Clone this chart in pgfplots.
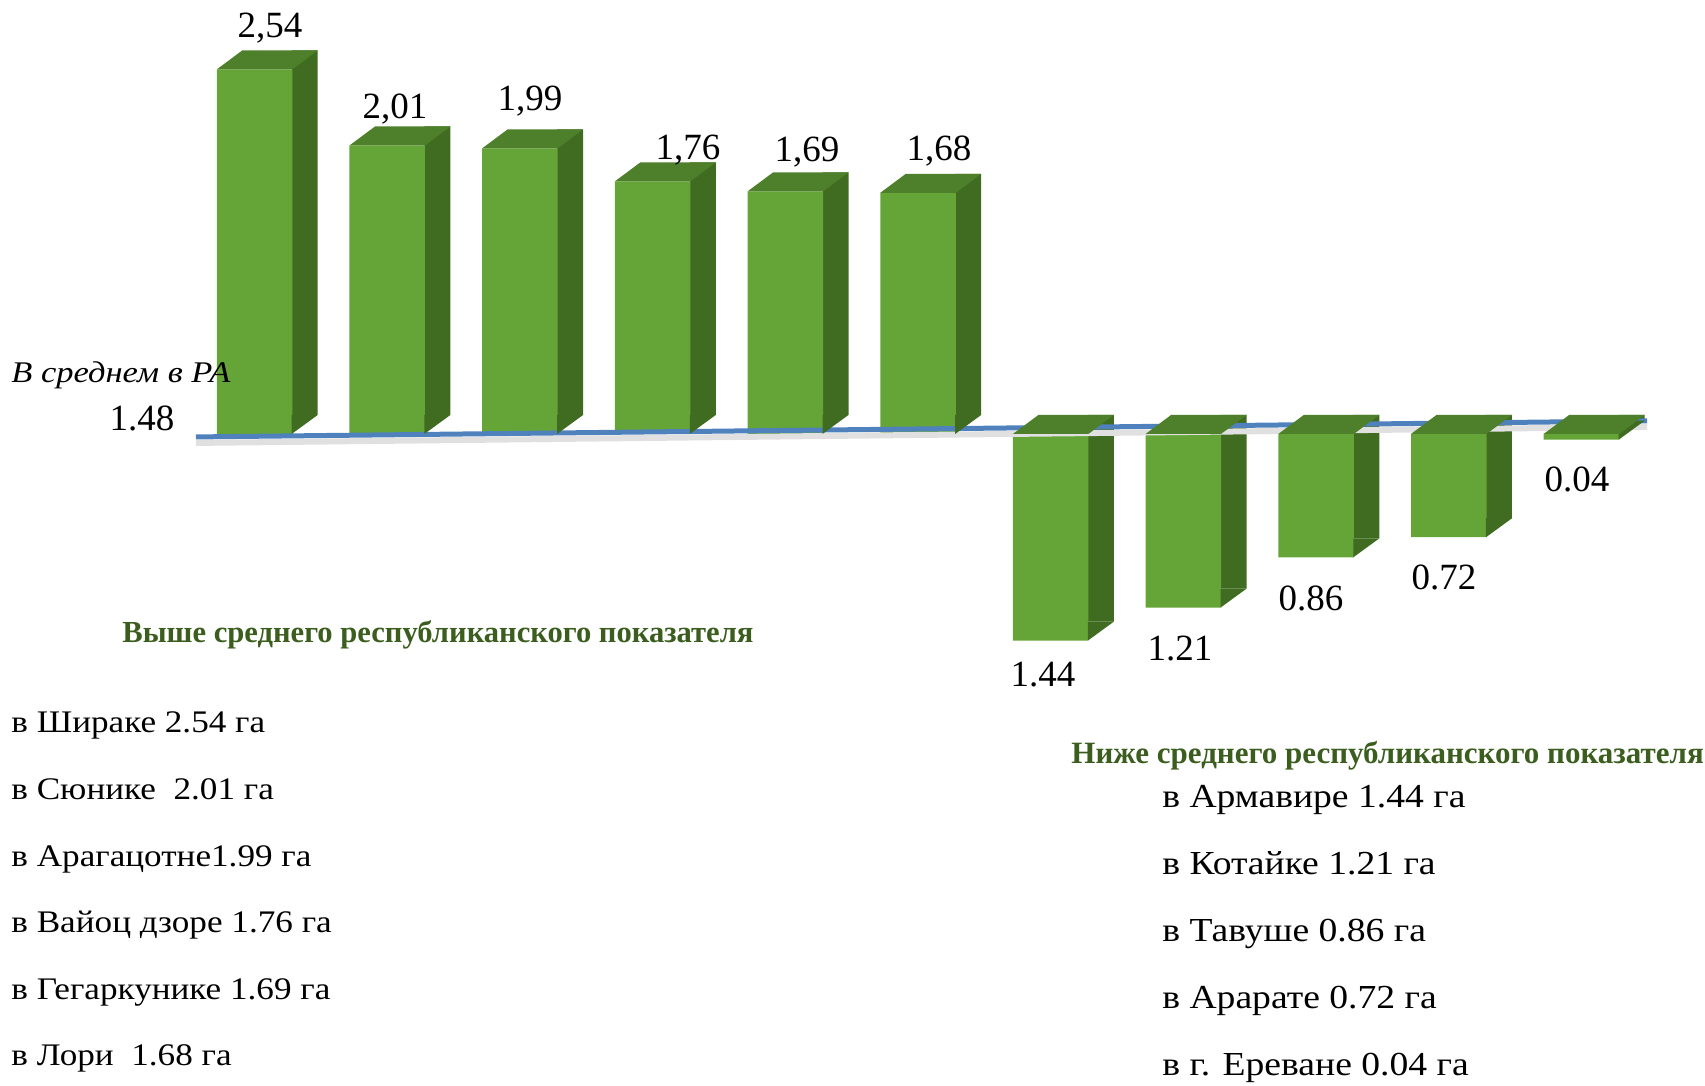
\documentclass[border=0pt]{standalone}
\usepackage{pgfplots}
\pgfplotsset{compat=1.18}
\usepackage{pgfplotstable}
\usepackage{fontspec}
\setmainfont{Liberation Serif}
\newfontfamily\listfont[FakeStretch=1.12]{Liberation Serif}
\newfontfamily\itfont[FakeStretch=1.15]{Liberation Serif Italic}
\definecolor{frontc}{HTML}{65A538}
\definecolor{sidec}{HTML}{3F6C21}
\definecolor{topc}{HTML}{4E802B}
\definecolor{lineblue}{HTML}{4F81BD}
\definecolor{titlegreen}{HTML}{3B5E1F}
\pgfdeclareplotmark{topface}{%
 \pgfpathmoveto{\pgfpoint{-18.875bp}{0bp}}%
 \pgfpathlineto{\pgfpoint{18.875bp}{0bp}}%
 \pgfpathlineto{\pgfpoint{31.625bp}{9.5bp}}%
 \pgfpathlineto{\pgfpoint{-6.125bp}{9.5bp}}%
 \pgfpathclose\pgfusepath{fill}}
\pgfdeclareplotmark{sidetri}{%
 \pgfpathmoveto{\pgfpoint{18.6bp}{0bp}}%
 \pgfpathlineto{\pgfpoint{31.625bp}{9.5bp}}%
 \pgfpathlineto{\pgfpoint{18.6bp}{9.5bp}}%
 \pgfpathclose\pgfusepath{fill}}
\pgfdeclareplotmark{nothing}{}
\pgfplotstableread{
x v top bot lab lx ly
0 2.54 2.54 0 2,54 7.75 19.55
1 2.01 2.01 0 2,01 3.9 17.1
2 1.99 1.99 0 1,99 5.05 22.5
3 1.76 1.76 0 1,76 17.7 14.5
4 1.69 1.69 0 1,69 10.85 18.55
5 1.68 1.68 0 1,68 10.5 19.75
6 -1.44 0 -1.44 1.44 -3.85 -19.4
7 -1.21 0 -1.21 1.21 -1.7 -22.9
8 -0.86 0 -0.86 0.86 -2.55 -23.0
9 -0.72 0 -0.72 0.72 -2.4 -22.55
10 -0.04 0 -0.04 0.04 -2.25 -22.35
}\datatable
\begin{document}
\begin{tikzpicture}
\useasboundingbox (0,0) rectangle (852.5bp,543bp);
\begin{axis}[at={(0,0)}, anchor=south west, width=852.5bp, height=543bp,
  scale only axis, xmin=-1.918, xmax=10.931, ymin=-4.544, ymax=3.024,
  axis lines=none, clip=false]
% side faces
\addplot[ybar, bar width=13bp, bar shift=25.1bp, yshift=9.5bp, fill=sidec, draw=none] table[x=x,y=v]{\datatable};
\addplot[only marks, mark=sidetri, mark options={fill=sidec, draw=none}] table[x=x,y=bot]{\datatable};
% top faces
\addplot[only marks, mark=topface, mark options={fill=topc, draw=none}] table[x=x,y=top]{\datatable};
% front faces
\addplot[ybar, bar width=37.75bp, bar shift=0bp, fill=frontc, draw=none] table[x=x,y=v]{\datatable};
% average line
\addplot[color=black!12, line width=3bp, yshift=-3bp] coordinates {(-0.441,-0.021) (10.494,0.0906)};
\addplot[color=lineblue, line width=2.5bp] coordinates {(-0.441,-0.021) (10.494,0.0906)};
% value labels
\addplot[only marks, mark=nothing,
  nodes near coords, point meta=explicit symbolic,
  visualization depends on={\thisrow{lx}\as\lx},
  visualization depends on={\thisrow{ly}\as\ly},
  every node near coord/.style={anchor=center, xshift=\lx bp, yshift=\ly bp,
    text height=0.68em, text depth=0pt, inner sep=0pt, font=\fontsize{18.5bp}{20bp}\selectfont}]
  table[x=x,y=v,meta=lab]{\datatable};
\end{axis}
\begin{scope}[x=0.5bp,y=-0.5bp,shift={(0pt,543bp)}]
\node[anchor=base west, inner sep=0pt, font=\fontsize{15bp}{17bp}\itfont] at (11,383) {В среднем в РА};
\node[anchor=base, inner sep=0pt, font=\fontsize{18.5bp}{20bp}\selectfont] at (142,431) {1.48};
\node[anchor=base west, inner sep=0pt, text=titlegreen, font=\fontsize{15.3bp}{17bp}\selectfont\bfseries] at (122,643) {Выше среднего республиканского показателя};
\node[anchor=base west, inner sep=0pt, text=titlegreen, font=\fontsize{15.5bp}{17bp}\selectfont\bfseries] at (1071,764) {Ниже среднего республиканского показателя};
\begin{scope}[every node/.style={anchor=base west, inner sep=0pt, font=\fontsize{15.7bp}{17bp}\listfont}]
\node at (11,733) {в Шираке 2.54 га};
\node at (11,800) {в Сюнике\ \ 2.01 га};
\node at (11,866.5) {в Арагацотне1.99 га};
\node at (11,933) {в Вайоц дзоре 1.76 га};
\node at (11,1000) {в Гегаркунике 1.69 га};
\node at (11,1066) {в Лори\ \ 1.68 га};
\end{scope}
\begin{scope}[every node/.style={anchor=base west, inner sep=0pt, font=\fontsize{16.8bp}{18bp}\listfont}]
\node at (1162,808) {в Армавире 1.44 га};
\node at (1162,875) {в Котайке 1.21 га};
\node at (1162,942) {в Тавуше 0.86 га};
\node at (1162,1009) {в Арарате 0.72 га};
\node at (1162,1076) {в г. Ереване 0.04 га};
\end{scope}
\end{scope}
\end{tikzpicture}
\end{document}
